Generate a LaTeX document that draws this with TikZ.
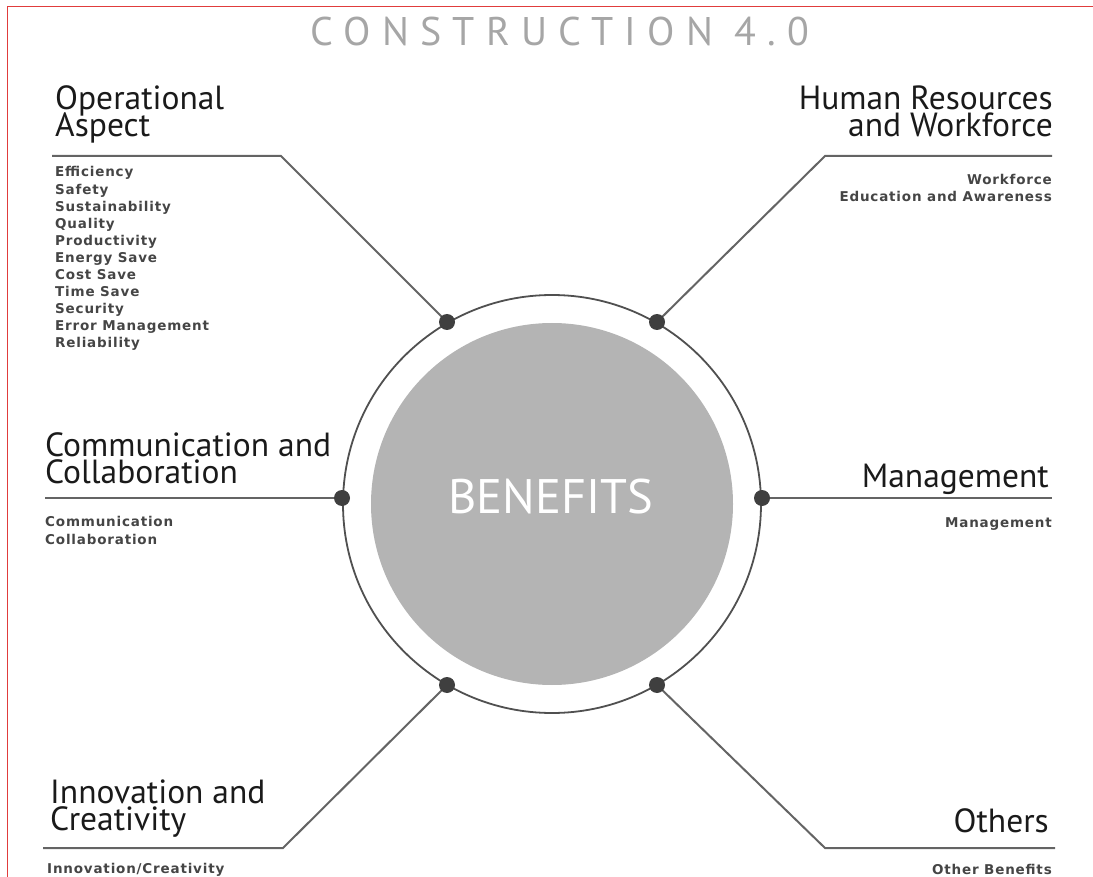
\documentclass[tikz,border=0pt]{standalone}
\usepackage{fontspec}
\newfontfamily\hfont{PT Sans}
\newfontfamily\titlefont[LetterSpace=28]{PT Sans}
\newfontfamily\smallfont[LetterSpace=6]{DejaVu Sans}
\definecolor{titlegray}{HTML}{A6A6A6}
\definecolor{headcol}{HTML}{1A1A1A}
\definecolor{smallcol}{HTML}{454545}
\definecolor{linecol}{HTML}{646464}
\definecolor{circcol}{HTML}{505050}
\definecolor{diskcol}{HTML}{B4B4B4}
\definecolor{dotcol}{HTML}{3F3F3F}
\definecolor{bordercol}{HTML}{E03C3C}
\pgfdeclarelayer{bg}
\pgfsetlayers{bg,main}
\tikzset{
  head/.style={inner sep=0pt, text=headcol, font={\hfont\fontsize{33.5}{27}\selectfont\lineskiplimit=-100pt\lineskip=0pt}},
  headL/.style={head, anchor=base west, align=left},
  headR/.style={head, anchor=base east, align=right},
  item/.style={inner sep=0pt, text=smallcol, font={\smallfont\bfseries\fontsize{13.5}{17.1}\selectfont\lineskiplimit=-100pt\lineskip=0pt}},
  itemL/.style={item, anchor=base west, align=left},
  itemR/.style={item, anchor=base east, align=right},
  dotnode/.style={circle, fill=dotcol, minimum size=16pt, inner sep=0pt},
  conn/.style={draw=linecol, line width=2pt},
}
\begin{document}
\begin{tikzpicture}[x=1pt,y=-1pt]
\useasboundingbox (0,0) rectangle (1093,877);
% border
\draw[bordercol, line width=1pt] (1093,7) -- (7,7) -- (7,877);
% title
\node[inner sep=0pt, anchor=base, text=titlegray, font={\titlefont\fontsize{40}{40}\selectfont}] (title) at (560,46) {CONSTRUCTION 4.0};
% circle
\coordinate (c) at (552,504);
\draw[circcol, line width=1.8pt] (c) circle[radius=209];
\node[circle, fill=diskcol, minimum size=362pt, inner sep=0pt] (disk) at (c) {};
\node[inner sep=0pt, text=white, font={\hfont\fontsize{48.5}{48.5}\selectfont}] (benefits) at (551,497) {BENEFITS};
% dots
\node[dotnode] (dtl) at (447,322) {};
\node[dotnode] (dtr) at (657,322) {};
\node[dotnode] (dl) at (342,498) {};
\node[dotnode] (dr) at (762,498) {};
\node[dotnode] (dbl) at (447,685) {};
\node[dotnode] (dbr) at (657,685) {};
% corners and ends
\coordinate (ktl) at (281,156); \coordinate (etl) at (52,156);
\coordinate (ktr) at (825,156); \coordinate (etr) at (1052,156);
\coordinate (el) at (45,498);
\coordinate (er) at (1052,498);
\coordinate (kbl) at (283,848); \coordinate (ebl) at (43,848);
\coordinate (kbr) at (825,848); \coordinate (ebr) at (1055,848);
\begin{pgfonlayer}{bg}
\draw[conn] (dtl.center) -- (ktl) -- (etl);
\draw[conn] (dtr.center) -- (ktr) -- (etr);
\draw[conn] (dl.center) -- (el);
\draw[conn] (dr.center) -- (er);
\draw[conn] (dbl.center) -- (kbl) -- (ebl);
\draw[conn] (dbr.center) -- (kbr) -- (ebr);
\end{pgfonlayer}
% headings (anchored at the baseline of the last line)
\node[headL] (hop) at (55,137) {Operational\\Aspect};
\node[headR] (hhr) at (1053,137) {Human Resources\\and Workforce};
\node[headL] (hcc) at (45,483) {Communication and\\Collaboration};
\node[headR] (hman) at (1049,487) {Management};
\node[headL] (hin) at (50,830) {Innovation and\\Creativity};
\node[headR] (hoth) at (1049,832) {Others};
% items (anchored at the baseline of the last line)
\node[itemL] (iop) at (55,348) {Efficiency\\Safety\\Sustainability\\Quality\\Productivity\\Energy Save\\Cost Save\\Time Save\\Security\\Error Management\\Reliability};
\node[itemR] (ihr) at (1052,202) {Workforce\\Education and Awareness};
\node[itemL] (icc) at (45,544) {Communication\\Collaboration};
\node[itemR] (iman) at (1052,527) {Management};
\node[itemL] (iin) at (47,873) {Innovation/Creativity};
\node[itemR] (ioth) at (1052,874) {Other Benefits};
\end{tikzpicture}
\end{document}
